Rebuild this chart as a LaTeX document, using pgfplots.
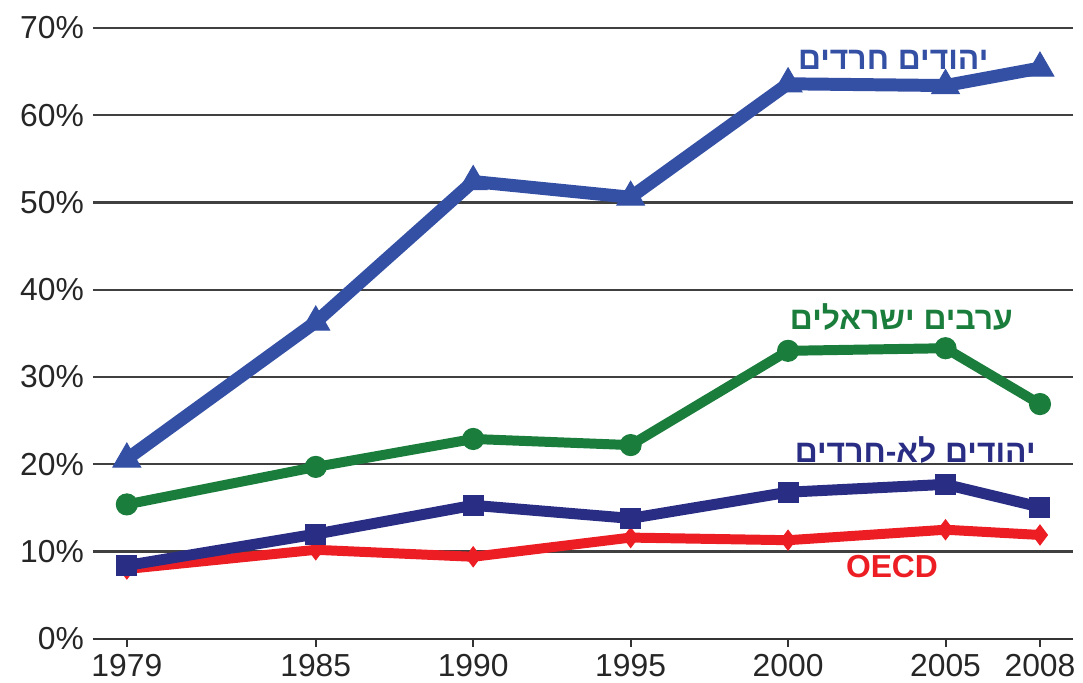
\documentclass[border=0pt]{standalone}
\usepackage{pgfplots}
\pgfplotsset{compat=1.18}
\usepackage{fontspec}
\setmainfont{Liberation Sans}
\newfontfamily\hebfont[Script=Hebrew]{Liberation Sans}
\TeXXeTstate=1
\definecolor{cHar}{RGB}{52,80,165}
\definecolor{cArab}{RGB}{26,125,60}
\definecolor{cNon}{RGB}{42,45,132}
\definecolor{cOecd}{RGB}{236,30,36}
\begin{document}
\begin{tikzpicture}
\begin{axis}[
  scale only axis, width=491bp, height=306bp,
  xmin=1977.92, xmax=2009.05, ymin=0, ymax=70,
  axis x line*=bottom, axis y line*=left,
  y axis line style={draw=none},
  x axis line style={black!80, line width=1.2bp},
  xtick={1979,1985,1990,1995,2000,2005,2008},
  xticklabels={1979,1985,1990,1995,2000,2005,2008},
  ytick={0,10,20,30,40,50,60,70},
  yticklabels={0\%,10\%,20\%,30\%,40\%,50\%,60\%,70\%},
  ymajorgrids, grid style={black!75, line width=1.2bp},
  ytick style={draw=none},
  xtick style={black!80, line width=1bp},
  tick align=outside, major tick length=4bp,
  /pgf/number format/assume math mode=true,
  ticklabel style={font=\fontsize{16}{19}\selectfont, text=black!85},
  yticklabel style={xshift=3bp},
  clip=false,
]
\addplot[cOecd, line width=5bp, mark=diamond*, mark size=5bp, mark options={solid, line width=0.5bp}]
  coordinates {(1979,8.0) (1985,10.2) (1990,9.4) (1995,11.6) (2000,11.3) (2005,12.5) (2008,11.9)};
\addplot[cNon, line width=5.5bp, mark=square*, mark size=5bp, mark options={solid, line width=0.5bp}]
  coordinates {(1979,8.4) (1985,12.0) (1990,15.3) (1995,13.8) (2000,16.8) (2005,17.7) (2008,15.1)};
\addplot[cArab, line width=5bp, mark=*, mark size=5.3bp, mark options={solid, line width=0.5bp}]
  coordinates {(1979,15.4) (1985,19.7) (1990,22.9) (1995,22.2) (2000,33.0) (2005,33.3) (2008,26.9)};
\addplot[cHar, line width=6.5bp, mark=triangle*, mark size=8bp, mark options={solid, line width=0.5bp}]
  coordinates {(1979,20.6) (1985,36.3) (1990,52.4) (1995,50.6) (2000,63.6) (2005,63.4) (2008,65.4)};
\node[font=\hebfont\bfseries\fontsize{16}{19}\selectfont, text=cHar] at (axis cs:2003.34,66.34) {\beginR יהודים חרדים\endR};
\node[font=\hebfont\bfseries\fontsize{16}{19}\selectfont, text=cArab] at (axis cs:2003.6,36.83) {\beginR ערבים ישראלים\endR};
\node[font=\hebfont\bfseries\fontsize{16}{19}\selectfont, text=cNon] at (axis cs:2004.04,21.62) {\beginR יהודים לא-חרדים\endR};
\node[font=\bfseries\fontsize{16}{19}\selectfont, text=cOecd] at (axis cs:2003.3,8.24) {OECD};
\end{axis}
\pgfresetboundingbox
\path ([shift={(-46.5bp,-22bp)}]current axis.south west) rectangle ([shift={(5bp,14bp)}]current axis.north east);
\end{tikzpicture}
\end{document}
